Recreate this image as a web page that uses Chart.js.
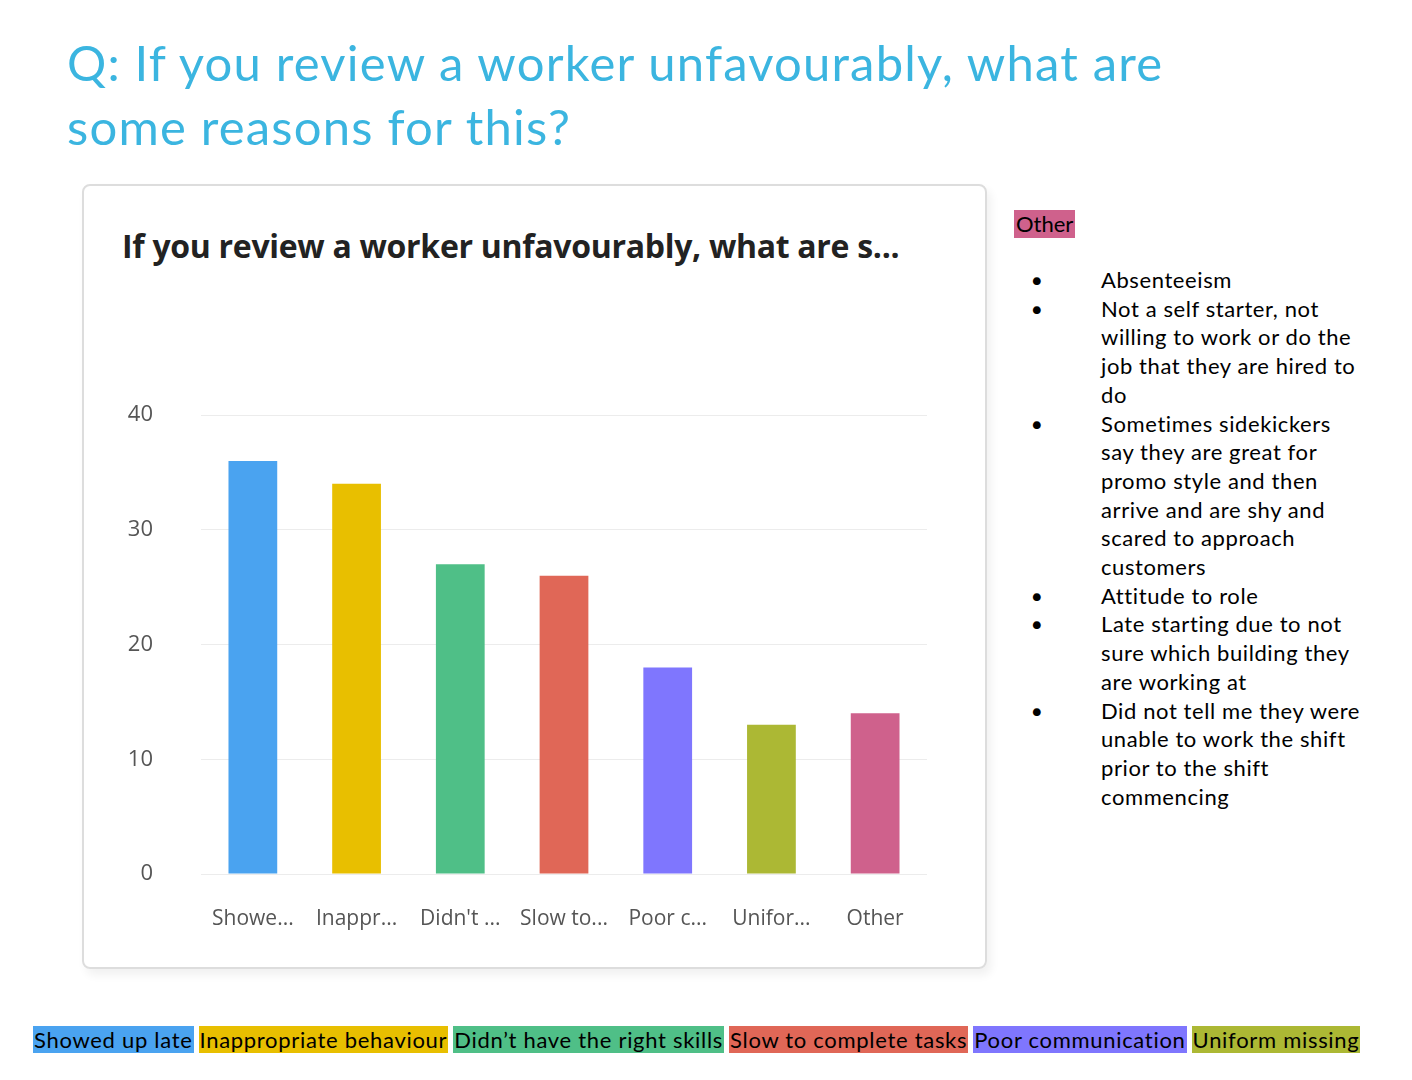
<!DOCTYPE html>
<html><head><meta charset="utf-8">
<script src="https://cdn.jsdelivr.net/npm/chart.js@4"></script>
<style>
body{margin:0;width:1412px;height:1080px;background:#fff;font-family:Lato,"Noto Sans",sans-serif;position:relative;overflow:hidden}
#t{position:absolute;left:67px;top:30px;font-size:49px;line-height:64px;color:#3bb5e0;width:1160px;font-family:Lato,sans-serif;letter-spacing:1.2px}
#card{position:absolute;left:82px;top:184px;width:901px;height:781px;border:2px solid #ddd;border-radius:8px;box-shadow:4px 6px 10px rgba(0,0,0,0.06)}
#ct{position:absolute;left:38px;top:38px;font-size:32px;font-weight:bold;color:#222;font-family:"Open Sans",sans-serif;letter-spacing:-0.3px}
#cv{position:absolute;left:0;top:0}
#other{position:absolute;left:1014px;top:210px;background:#cf618c;font-size:22px;padding:0 2px;line-height:28px;color:#000}
ul{position:absolute;left:1032px;top:266px;margin:0;padding:0;list-style:none;font-size:22px;line-height:28.7px;width:335px;color:#000;letter-spacing:0.6px}
li{position:relative;padding-left:69px}
li:before{content:"●";position:absolute;left:0;font-size:16px}
#leg{position:absolute;left:33px;top:1025px;font-size:22px;line-height:29px;white-space:nowrap;letter-spacing:0.7px}
#leg span{padding:0 1px;margin-right:5px}
</style></head><body>
<div id="t">Q: If you review a worker unfavourably, what are some reasons for this?</div>
<div id="card"><div id="ct">If you review a worker unfavourably, what are s...</div><canvas id="cv"></canvas></div>
<div id="other">Other</div>
<ul>
<li>Absenteeism</li>
<li>Not a self starter, not willing to work or do the job that they are hired to do</li>
<li>Sometimes sidekickers say they are great for promo style and then arrive and are shy and scared to approach customers</li>
<li>Attitude to role</li>
<li>Late starting due to not sure which building they are working at</li>
<li>Did not tell me they were unable to work the shift prior to the shift commencing</li>
</ul>
<div id="leg"></div>
<script>
const categories=["Showed up late","Inappropriate behaviour","Didn’t have the right skills","Slow to complete tasks","Poor communication","Uniform missing","Other"];
const tickLabels=["Showe...","Inappr...","Didn't ...","Slow to...","Poor c...","Unifor...","Other"];
const values=[36,34,27,26,18,13,14];
const colors=["#4aa3f0","#e8bf00","#4fbf87","#e06757","#7f76fe","#acb834","#cf618c"];
const yTicks=[0,10,20,30,40];
const leg=document.getElementById('leg');
categories.slice(0,6).forEach((c,i)=>{const s=document.createElement('span');s.textContent=c;s.style.background=colors[i];leg.appendChild(s);});
const cv=document.getElementById('cv');cv.width=901;cv.height=781;cv.style.width='901px';cv.style.height='781px';
new Chart(cv,{type:'bar',data:{labels:categories,datasets:[{data:values,backgroundColor:colors,barPercentage:0.47,categoryPercentage:1}]},
options:{responsive:false,animation:false,devicePixelRatio:1,layout:{padding:{top:229,right:58,left:0,bottom:0}},
plugins:{legend:{display:false},tooltip:{enabled:false}},
scales:{y:{min:0,max:40,afterBuildTicks:a=>{a.ticks=yTicks.map(v=>({value:v}));},afterFit:s=>{s.width=117;},
 border:{display:false},grid:{color:'#ececec',drawTicks:false},ticks:{padding:48,color:'#555',font:{size:22,family:'Open Sans'}}},
 x:{afterFit:s=>{s.height=93;},border:{display:false},grid:{display:false},ticks:{padding:24,maxRotation:0,autoSkip:false,color:'#555',font:{size:21,family:'Open Sans'},callback:(v,i)=>tickLabels[i]}}}}});
</script></body></html>
